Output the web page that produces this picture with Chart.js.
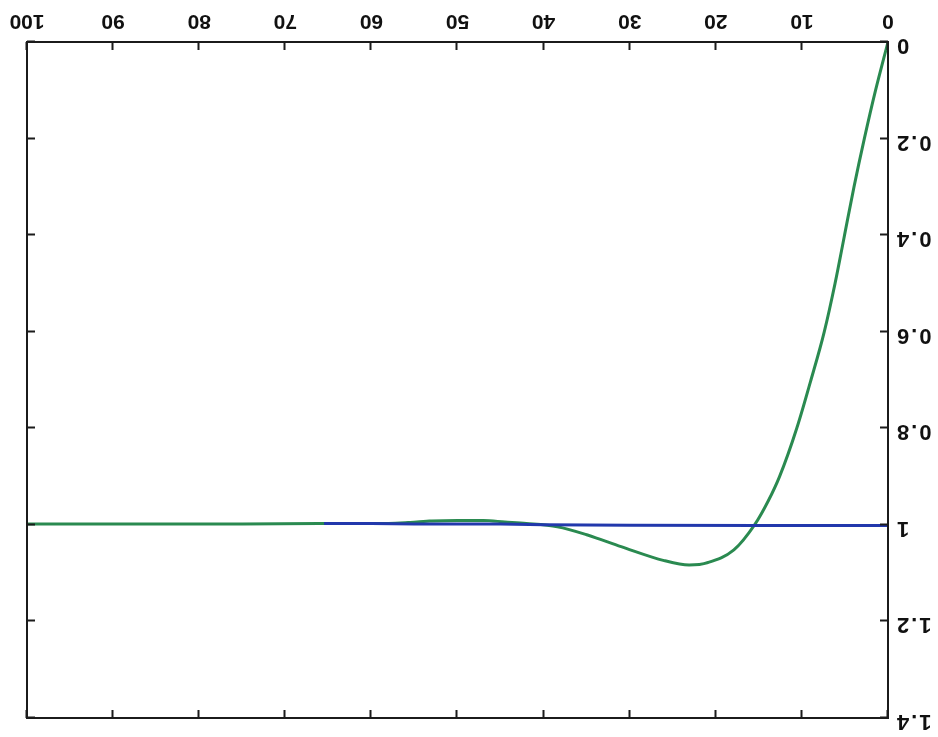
<!DOCTYPE html>
<html>
<head>
<meta charset="utf-8">
<script src="https://cdn.jsdelivr.net/npm/chart.js@4.4.1/dist/chart.umd.min.js"></script>
<style>
  html, body { margin: 0; padding: 0; background: #fff; }
  #wrap { width: 938px; height: 737px; transform: rotate(180deg); }
  canvas { display: block; }
</style>
</head>
<body>
<div id="wrap"><canvas id="c" width="938" height="737"></canvas></div>
<script>
// Response curve (green) and reference level (blue)
const greenX = [0, 1.45, 2.75, 3.95, 5.05, 6.15, 7.4, 8.95, 10.6, 12.6, 13.9, 15.5, 17.9, 20.9, 23.1, 26.0, 31.0, 34.9, 38.4, 42.0, 44.5, 47, 50, 53, 55.5, 58, 66, 75, 85, 100];
const greenY = [0, 0.1, 0.2, 0.3, 0.4, 0.5, 0.6, 0.7, 0.8, 0.9, 0.95, 1.0, 1.052, 1.078, 1.083, 1.074, 1.045, 1.021, 1.004, 0.997, 0.994, 0.991, 0.991, 0.992, 0.995, 0.997, 0.997, 0.998, 0.998, 0.998];
const blueX = [0, 15, 30, 40, 45, 50, 55, 60, 65.5];
const blueY = [1.0015, 1.0012, 1.001, 1.0, 0.998, 0.998, 0.998, 0.997, 0.997];
const xTicks = [0, 10, 20, 30, 40, 50, 60, 70, 80, 90, 100];
const yTicks = [0, 0.2, 0.4, 0.6, 0.8, 1, 1.2, 1.4];

const toPoints = (xs, ys) => xs.map((x, i) => ({ x: x, y: ys[i] }));
const FAMILY = 'Arial, "Liberation Sans", sans-serif';

// Box frame with inward tick marks on all four sides, plus the y tick labels
const framePlugin = {
  id: 'frame',
  afterDraw(chart) {
    const { ctx, chartArea: a, scales } = chart;
    const len = 8;
    ctx.save();
    ctx.strokeStyle = '#1b1b1b';
    ctx.lineWidth = 2;
    ctx.strokeRect(a.left, a.top, a.right - a.left, a.bottom - a.top);
    ctx.beginPath();
    xTicks.forEach(v => {
      const px = Math.round(scales.x.getPixelForValue(v)) + 0.5;
      ctx.moveTo(px, a.bottom); ctx.lineTo(px, a.bottom - len);
      ctx.moveTo(px, a.top); ctx.lineTo(px, a.top + len);
    });
    yTicks.forEach(v => {
      const py = Math.round(scales.y.getPixelForValue(v)) + 0.5;
      ctx.moveTo(a.left, py); ctx.lineTo(a.left + len, py);
      ctx.moveTo(a.right, py); ctx.lineTo(a.right - len, py);
    });
    ctx.stroke();

    // y labels, spaced a little wider
    ctx.fillStyle = '#111';
    ctx.font = 'bold 22px ' + FAMILY;
    ctx.textAlign = 'right';
    ctx.textBaseline = 'middle';
    if ('letterSpacing' in ctx) ctx.letterSpacing = '2px';
    yTicks.forEach(v => {
      const py = scales.y.getPixelForValue(v) - 3;
      ctx.fillText(String(Math.round(v * 10) / 10), a.left - 7, py);
    });
    ctx.restore();
  }
};

new Chart(document.getElementById('c'), {
  type: 'scatter',
  data: {
    datasets: [
      {
        data: toPoints(blueX, blueY),
        showLine: true,
        borderColor: '#2238ac',
        borderWidth: 3,
        pointRadius: 0,
        order: 0
      },
      {
        data: toPoints(greenX, greenY),
        showLine: true,
        borderColor: '#2a8a50',
        borderWidth: 3,
        pointRadius: 0,
        cubicInterpolationMode: 'monotone',
        order: 1
      }
    ]
  },
  options: {
    responsive: false,
    devicePixelRatio: 1,
    animation: false,
    layout: { padding: { top: 19, right: 27, left: 0, bottom: 0 } },
    plugins: { legend: { display: false }, tooltip: { enabled: false } },
    scales: {
      x: {
        type: 'linear',
        min: 0, max: 100,
        afterBuildTicks: s => { s.ticks = xTicks.map(v => ({ value: v })); },
        afterFit: s => { s.height = 42; },
        grid: { display: false, drawTicks: false },
        border: { display: false },
        ticks: { color: '#111', font: { family: FAMILY, size: 21, weight: 'bold' },
                 padding: 9, maxRotation: 0, callback: v => String(v) }
      },
      y: {
        type: 'linear',
        min: 0, max: 1.4,
        afterBuildTicks: s => { s.ticks = yTicks.map(v => ({ value: v })); },
        afterFit: s => { s.width = 50; },
        grid: { display: false, drawTicks: false },
        border: { display: false },
        ticks: { display: false }
      }
    }
  },
  plugins: [framePlugin]
});
</script>
</body>
</html>
